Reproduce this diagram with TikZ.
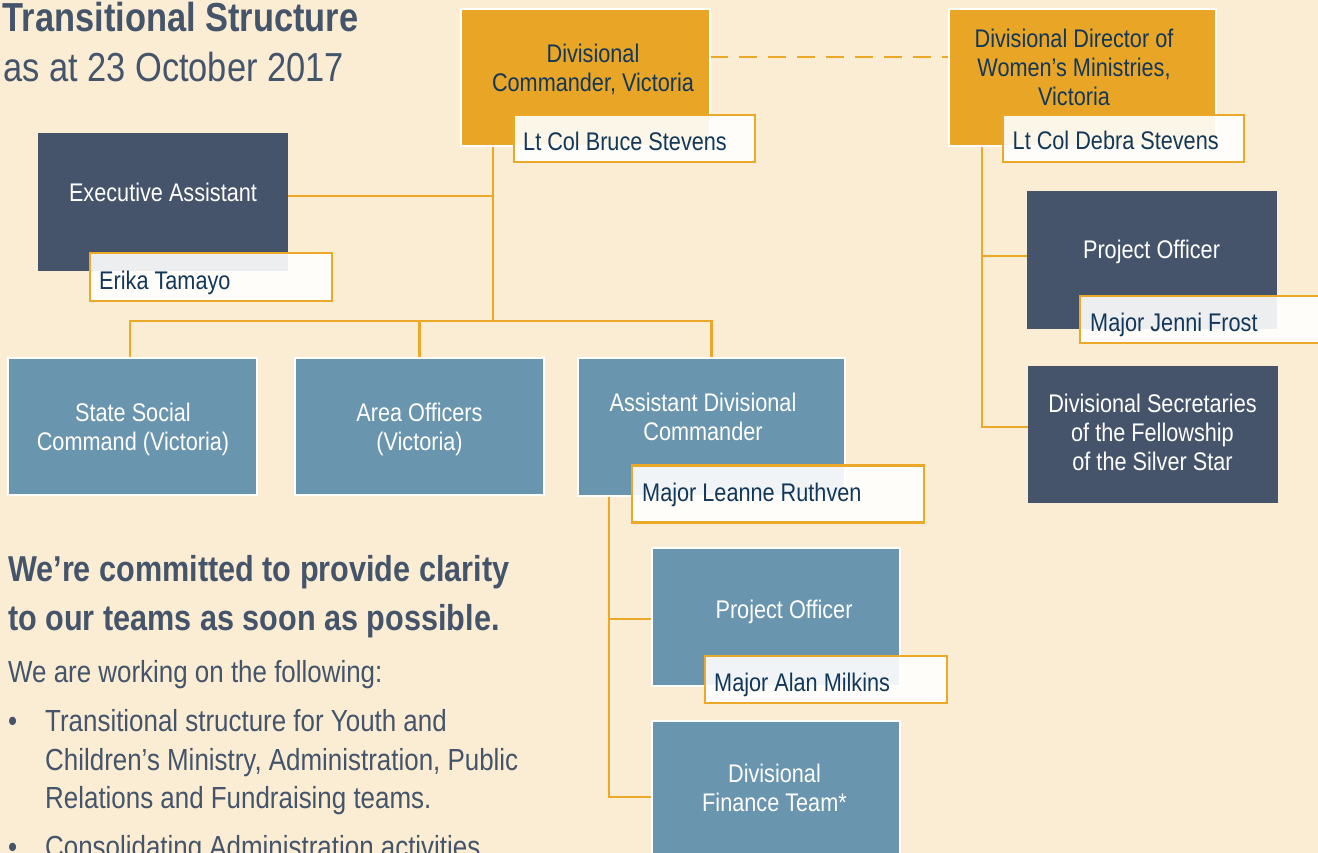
\documentclass[tikz,border=0pt]{standalone}
\usepackage{fontspec}
\setmainfont{Liberation Sans}[FakeStretch=0.85]
\definecolor{bgc}{RGB}{251,236,212}
\definecolor{slate}{RGB}{68,84,106}
\definecolor{darkfill}{RGB}{69,84,107}
\definecolor{bluefill}{RGB}{105,149,175}
\definecolor{orgfill}{RGB}{233,166,38}
\definecolor{orgline}{RGB}{236,168,41}
\definecolor{nametxt}{RGB}{18,55,88}
\pgfdeclarelayer{bglayer}
\pgfdeclarelayer{linelayer}
\pgfsetlayers{bglayer,linelayer,main}
\begin{document}
\begin{tikzpicture}[x=1pt,y=-1pt,
  sz/.style 2 args={minimum width=#1, minimum height=#2},
  basebox/.style={rectangle, inner sep=0pt, outer sep=0pt},
  orgbox/.style={basebox, fill=orgfill, draw=white, line width=2pt},
  bluebox/.style={basebox, fill=bluefill, draw=white, line width=2pt},
  darkbox/.style={basebox, fill=darkfill},
  namebox/.style={basebox, fill=white, fill opacity=0.9, draw=orgline, line width=2.4pt},
  boxtext/.style={inner sep=0pt, anchor=base, align=center, text=white, font=\fontsize{25.5}{29}\selectfont},
  orgtext/.style={boxtext, text=nametxt},
  nametext/.style={inner sep=0pt, anchor=base west, text=nametxt, font=\fontsize{25.5}{29}\selectfont},
  conn/.style={draw=orgline, line width=2.7pt},
  plain/.style={inner sep=0pt, anchor=base west, text=slate, align=left}
]
\useasboundingbox (0,0) rectangle (1318,853);
\begin{pgfonlayer}{bglayer}
\fill[bgc] (0,0) rectangle (1318,853);
\end{pgfonlayer}

% junction coordinates
\coordinate (bus) at (493,321);
\coordinate (eaj) at (493,196);
\coordinate (adcj) at (609,797);
\coordinate (poj) at (609,619);
\coordinate (wdj) at (982,427);
\coordinate (po2j) at (982,256);
\coordinate (dashy) at (0,57);

% title and notes (multi-line nodes are placed at the baseline of their last line)
\node[plain, font=\fontsize{40.5}{45}\selectfont\bfseries] (title) at (2.5,31.7) {Transitional Structure};
\node[plain, font=\fontsize{40.5}{45}\selectfont] (date) at (3,81.7) {as at 23 October 2017};
\node[plain, font=\fontsize{36}{49}\selectfont\bfseries] (commit) at (8,630.7) {We’re committed to provide clarity\\to our teams as soon as possible.};
\node[plain, font=\fontsize{30.5}{38.3}\selectfont] (work) at (8,682.7) {We are working on the following:};
\node[plain, font=\fontsize{30.5}{38.3}\selectfont] (b1) at (8,731.7) {•};
\node[plain, font=\fontsize{30.5}{38.3}\selectfont] (l1) at (45,808.3) {Transitional structure for Youth and\\Children’s Ministry, Administration, Public\\Relations and Fundraising teams.};
\node[plain, font=\fontsize{30.5}{38.3}\selectfont] (b2) at (8,857) {•};
\node[plain, font=\fontsize{30.5}{38.3}\selectfont] (l2) at (45,857) {Consolidating Administration activities};

% boxes
\path
  node[orgbox, sz={249pt}{137pt}] (dc) at (585.5,77.5) {}
  node[orgbox, sz={267pt}{137pt}] (wd) at (1082.5,77.5) {}
  node[darkbox, sz={250pt}{138pt}] (ea) at (163,202) {}
  node[bluebox, sz={249pt}{137pt}] (ssc) at (132.5,426.5) {}
  node[bluebox, sz={249pt}{137pt}] (ao) at (419.5,426.5) {}
  node[bluebox, sz={267pt}{138pt}] (adc) at (711.5,427) {}
  node[bluebox, sz={248pt}{138pt}] (po) at (776,617) {}
  node[bluebox, sz={248pt}{138pt}] (fin) at (776,790) {}
  node[darkbox, sz={250pt}{138pt}] (po2) at (1152,260) {}
  node[darkbox, sz={250pt}{137pt}] (dss) at (1153,434.5) {};

% name boxes
\path
  node[namebox, sz={241pt}{47pt}] (dcn) at (634.5,138.5) {}
  node[namebox, sz={241pt}{47pt}] (wdn) at (1123.5,138.5) {}
  node[namebox, sz={242pt}{48pt}] (ean) at (211,277) {}
  node[namebox, sz={292pt}{57pt}] (adcn) at (778,494) {}
  node[namebox, sz={242pt}{47pt}] (pon) at (826,679.5) {}
  node[namebox, sz={242pt}{47pt}] (po2n) at (1201,319.5) {};

% box texts
\node[orgtext] (dct) at (593,92) {Divisional\\Commander, Victoria};
\node[orgtext] (wdt) at (1074,106) {Divisional Director of\\Women’s Ministries,\\Victoria};
\node[boxtext] (eat) at (163,201.7) {Executive Assistant};
\node[boxtext] (ssct) at (133,450) {State Social\\Command (Victoria)};
\node[boxtext] (aot) at (419.5,450) {Area Officers\\(Victoria)};
\node[boxtext] (adct) at (703,440) {Assistant Divisional\\Commander};
\node[boxtext] (pot) at (784,618.3) {Project Officer};
\node[boxtext] (fint) at (774.5,811) {Divisional\\Finance Team*};
\node[boxtext] (po2t) at (1151.5,259) {Project Officer};
\node[boxtext] (dsst) at (1152.5,470) {Divisional Secretaries\\of the Fellowship\\of the Silver Star};

% name texts
\node[nametext] (dcnt) at (523,150.7) {Lt Col Bruce Stevens};
\node[nametext] (wdnt) at (1012.5,150) {Lt Col Debra Stevens};
\node[nametext] (eant) at (99,289.3) {Erika Tamayo};
\node[nametext] (adcnt) at (642,501.7) {Major Leanne Ruthven};
\node[nametext] (pont) at (714,691.7) {Major Alan Milkins};
\node[nametext] (po2nt) at (1090,331.7) {Major Jenni Frost};

% connectors behind boxes
\begin{pgfonlayer}{linelayer}
\draw[conn] (dc.south -| bus) -- (bus);
\draw[conn] (ea.east |- eaj) -- (eaj);
\draw[conn] (ssc.north -| 130,0) |- (bus) -| (adc.north);
\draw[conn] (ao.north) -- (ao.north |- bus);
\draw[conn] (adc.south -| adcj) -- (adcj) -- (adcj -| fin.west);
\draw[conn] (poj) -- (poj -| po.west);
\draw[conn] (wd.south -| wdj) -- (wdj) -- (wdj -| dss.west);
\draw[conn] (po2j) -- (po2j -| po2.west);
\draw[conn, dash pattern=on 18pt off 11pt] (dc.east |- dashy) -- (wd.west |- dashy);
\end{pgfonlayer}
\end{tikzpicture}
\end{document}
